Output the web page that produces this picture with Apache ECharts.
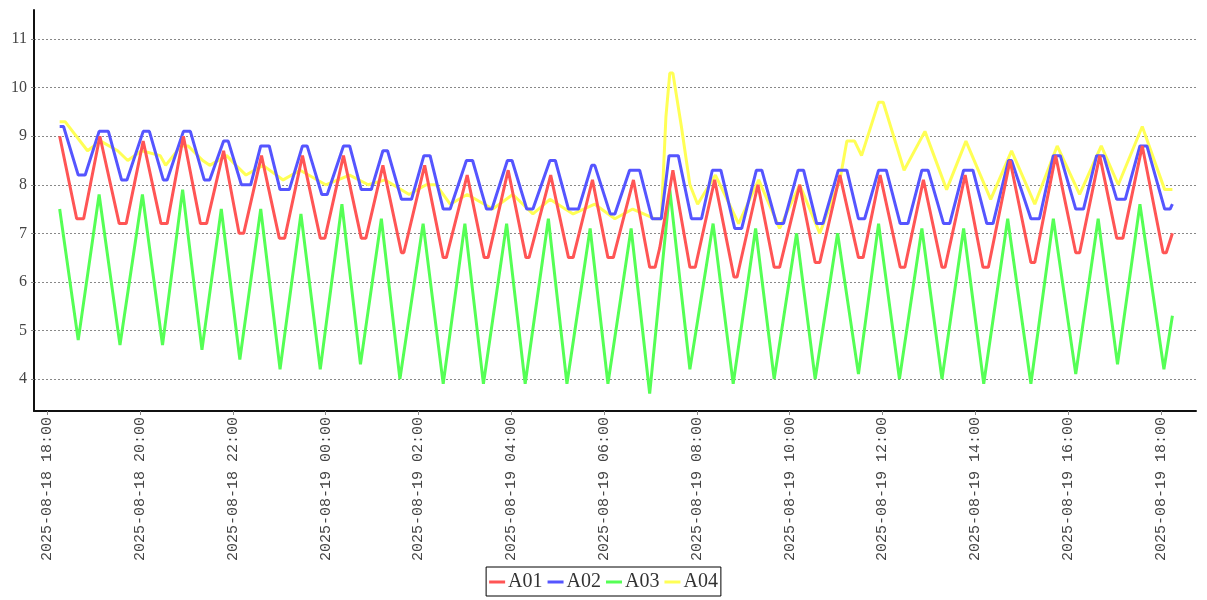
<!DOCTYPE html>
<html>
<head>
<meta charset="utf-8">
<script src="https://cdn.jsdelivr.net/npm/echarts@6/dist/echarts.min.js"></script>
<style>
html,body{margin:0;padding:0;background:#fff;}
#chart{width:1207px;height:600px;}
</style>
</head>
<body>
<div id="chart"></div>
<script>
// minutes after 2025-08-18 18:00 and values
const seriesNames = ['A01', 'A02', 'A03', 'A04'];
const xTickMinutes = [0, 120, 240, 360, 480, 600, 720, 840, 960, 1080, 1200, 1320, 1440];

const a01Min = [16,38,47,68,93,102,124,147,155,176,198,206,228,248,254,277,300,307,330,353,359,383,406,412,434,458,461,488,512,516,543,565,570,596,619,623,651,674,680,705,725,732,758,779,786,792,809,831,838,863,888,892,919,940,947,973,993,999,1025,1049,1055,1077,1103,1109,1133,1157,1161,1187,1210,1217,1245,1272,1277,1304,1330,1335,1361,1383,1391,1416,1443,1447,1455];
const a01Val = [9.0,7.3,7.3,9.0,7.2,7.2,8.9,7.2,7.2,9.0,7.2,7.2,8.7,7.0,7.0,8.6,6.9,6.9,8.6,6.9,6.9,8.6,6.9,6.9,8.4,6.6,6.6,8.4,6.5,6.5,8.2,6.5,6.5,8.3,6.5,6.5,8.2,6.5,6.5,8.1,6.5,6.5,8.1,6.3,6.3,6.7,8.3,6.3,6.3,8.1,6.1,6.1,8.0,6.3,6.3,8.0,6.4,6.4,8.2,6.5,6.5,8.2,6.3,6.3,8.1,6.3,6.3,8.2,6.3,6.3,8.5,6.4,6.4,8.6,6.6,6.6,8.6,6.9,6.9,8.8,6.6,6.6,7.0];

const a02Min = [16,21,40,49,67,79,96,103,124,132,150,155,176,185,203,210,228,234,251,263,276,287,301,313,330,336,355,362,383,391,406,419,434,440,458,471,487,495,512,521,542,550,568,575,595,601,620,628,650,657,674,687,704,708,728,734,753,766,782,794,804,816,833,846,860,871,889,898,917,924,943,952,971,978,995,1003,1023,1034,1049,1057,1075,1085,1103,1113,1131,1139,1159,1167,1185,1197,1215,1223,1243,1247,1272,1283,1301,1310,1330,1340,1357,1366,1383,1394,1413,1422,1445,1452,1455];
const a02Val = [9.2,9.2,8.2,8.2,9.1,9.1,8.1,8.1,9.1,9.1,8.1,8.1,9.1,9.1,8.1,8.1,8.9,8.9,8.0,8.0,8.8,8.8,7.9,7.9,8.8,8.8,7.8,7.8,8.8,8.8,7.9,7.9,8.7,8.7,7.7,7.7,8.6,8.6,7.5,7.5,8.5,8.5,7.5,7.5,8.5,8.5,7.5,7.5,8.5,8.5,7.5,7.5,8.4,8.4,7.4,7.4,8.3,8.3,7.3,7.3,8.6,8.6,7.3,7.3,8.3,8.3,7.1,7.1,8.3,8.3,7.2,7.2,8.3,8.3,7.2,7.2,8.3,8.3,7.3,7.3,8.3,8.3,7.2,7.2,8.3,8.3,7.2,7.2,8.3,8.3,7.2,7.2,8.5,8.5,7.3,7.3,8.6,8.6,7.5,7.5,8.6,8.6,7.7,7.7,8.8,8.8,7.5,7.5,7.6];

const a03Min = [16,40,67,94,123,149,175,200,225,249,276,301,328,353,381,405,432,456,486,512,540,564,594,618,648,672,702,725,755,779,805,831,861,887,916,940,969,993,1022,1049,1075,1102,1131,1157,1185,1211,1242,1272,1301,1330,1359,1384,1413,1444,1455];
const a03Val = [7.5,4.8,7.8,4.7,7.8,4.7,7.9,4.6,7.5,4.4,7.5,4.2,7.4,4.2,7.6,4.3,7.3,4.0,7.2,3.9,7.2,3.9,7.2,3.9,7.3,3.9,7.1,3.9,7.1,3.7,7.9,4.2,7.2,3.9,7.1,4.0,7.0,4.0,7.0,4.1,7.2,4.0,7.1,4.0,7.1,3.9,7.3,3.9,7.3,4.1,7.3,4.3,7.6,4.2,5.3];

const a04Min = [16,23,52,69,91,104,122,146,153,173,182,201,210,232,244,257,279,305,327,360,391,415,437,468,490,503,521,543,576,602,628,650,680,708,734,757,786,794,800,805,809,820,831,841,864,894,920,947,973,999,1025,1034,1044,1053,1075,1081,1108,1135,1163,1188,1220,1247,1277,1306,1335,1363,1385,1416,1445,1455];
const a04Val = [9.3,9.3,8.7,8.9,8.7,8.5,8.7,8.6,8.4,8.8,8.8,8.5,8.4,8.6,8.4,8.2,8.4,8.1,8.3,8.0,8.2,8.0,8.1,7.8,8.0,8.0,7.6,7.8,7.5,7.8,7.4,7.7,7.4,7.6,7.3,7.5,7.3,7.3,9.4,10.3,10.3,9.2,8.0,7.6,8.2,7.2,8.1,7.1,8.0,7.0,8.1,8.9,8.9,8.6,9.7,9.7,8.3,9.1,7.9,8.9,7.7,8.7,7.6,8.8,7.8,8.8,8.0,9.2,7.9,7.9];

const colors = ['#FF5555', '#5555FF', '#55FF55', '#FFFF55'];

const base = new Date(2025, 7, 18, 18, 0, 0).getTime();
const MIN = 60000;
function toPairs(mins, vals) {
  const n = Math.min(mins.length, vals.length);
  const out = [];
  for (let i = 0; i < n; i++) out.push([base + mins[i] * MIN, vals[i]]);
  return out;
}
const allMin = [a01Min, a02Min, a03Min, a04Min];
const allVal = [a01Val, a02Val, a03Val, a04Val];
const zOrder = [6, 5, 4, 3];

function pad(n) { return (n < 10 ? '0' : '') + n; }
function fmt(v) {
  const d = new Date(v);
  return d.getFullYear() + '-' + pad(d.getMonth() + 1) + '-' + pad(d.getDate()) + ' ' + pad(d.getHours()) + ':' + pad(d.getMinutes());
}
const xTicks = xTickMinutes.map(m => base + m * MIN);

const chart = echarts.init(document.getElementById('chart'), null, {renderer: 'canvas'});
chart.setOption({
  animation: false,
  backgroundColor: '#fff',
  grid: {left: 34, right: 11, top: 10, bottom: 189, containLabel: false},
  legend: {
    data: seriesNames,
    left: 'center',
    top: 567,
    icon: 'rect',
    itemWidth: 16,
    itemHeight: 3,
    itemGap: 5,
    borderColor: '#000',
    borderWidth: 1,
    borderRadius: 0,
    padding: [5, 3, 4, 3],
    textStyle: {fontFamily: 'Liberation Serif', fontSize: 20, color: '#333', padding: [0, 0, 0, -2]}
  },
  xAxis: {
    type: 'value',
    min: base - 17.2 * MIN,
    max: base + 1485.5 * MIN,
    splitLine: {show: false},
    axisLine: {show: true, onZero: false, lineStyle: {color: '#111', width: 2}},
    axisTick: {show: true, customValues: xTicks, length: 4, lineStyle: {color: '#888'}},
    axisLabel: {
      customValues: xTicks,
      rotate: 90,
      margin: 6,
      fontFamily: 'Liberation Mono',
      fontSize: 15,
      color: '#444',
      formatter: fmt
    }
  },
  yAxis: {
    type: 'value',
    min: 3.34,
    max: 11.6,
    splitNumber: 8,
    minInterval: 1,
    maxInterval: 1,
    axisLine: {show: true, onZero: false, lineStyle: {color: '#111', width: 2}},
    axisTick: {show: true, length: 3, lineStyle: {color: '#888'}},
    axisLabel: {
      showMinLabel: false,
      showMaxLabel: false,
      margin: 7,
      fontFamily: 'Liberation Serif',
      fontSize: 16,
      color: '#444',
      formatter: function (v) { return Math.abs(v - Math.round(v)) < 1e-6 ? String(Math.round(v)) : ''; }
    },
    splitLine: {show: true, showMinLine: false, showMaxLine: false, lineStyle: {color: '#888', type: [2, 2], width: 1}}
  },
  series: seriesNames.map((name, i) => ({
    name: name,
    type: 'line',
    data: toPairs(allMin[i], allVal[i]),
    showSymbol: false,
    symbol: 'none',
    z: zOrder[i],
    color: colors[i],
    lineStyle: {color: colors[i], width: 3},
    emphasis: {disabled: true}
  }))
});
</script>
</body>
</html>
